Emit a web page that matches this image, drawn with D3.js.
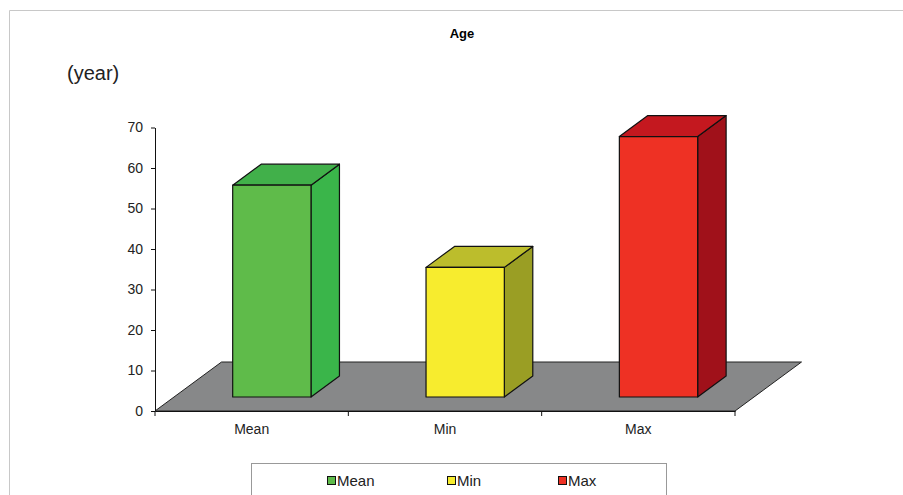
<!DOCTYPE html>
<html>
<head>
<meta charset="utf-8">
<script src="https://cdn.jsdelivr.net/npm/d3@7"></script>
<style>
  html, body { margin: 0; padding: 0; background: #fff; }
  svg { display: block; font-family: "Liberation Sans", Arial, sans-serif; }
</style>
</head>
<body>
<svg id="chart" width="903" height="495"></svg>
<script>
// ----------
var categories = ['Mean', 'Min', 'Max'];
var values = [52.3, 32, 64.3];
var yTicks = [0, 10, 20, 30, 40, 50, 60, 70];
var frontColors = ['#5fbb4a', '#f7ec2e', '#ee3124'];
var topColors = ['#41b04a', '#bcbd2c', '#c4181f'];
var sideColors = ['#3ab54a', '#9a9e24', '#a0111a'];

(function() {
  // ----------
  var svg = d3.select('#chart');
  var plotLeft = 155, plotRight = 735, plotBottom = 411, plotTop = 127.5;
  // oblique depth of the floor
  var depthX = 66.5, depthY = -49;
  var barFront = 0.286, barBack = 0.714;

  var x = d3.scaleBand().domain(categories).range([plotLeft, plotRight]).padding(0);
  var y = d3.scaleLinear().domain([0, 70]).range([plotBottom, plotTop]);

  function pts(list) {
    return list.map(function(p) { return p.join(','); }).join(' ');
  }

  // outer frame
  svg.append('path')
    .attr('d', 'M9.5,495 V10.5 H903')
    .attr('fill', 'none')
    .attr('stroke', '#c8c8c8')
    .attr('stroke-width', 1);

  // title
  svg.append('text')
    .attr('x', 462)
    .attr('y', 38)
    .attr('text-anchor', 'middle')
    .attr('font-size', 13)
    .attr('font-weight', 'bold')
    .text('Age');

  svg.append('text')
    .attr('x', 67)
    .attr('y', 80)
    .attr('font-size', 20)
    .attr('fill', '#222')
    .text('(year)');

  // floor
  svg.append('polygon')
    .attr('points', pts([
      [plotLeft, plotBottom], [plotRight, plotBottom],
      [plotRight + depthX, plotBottom + depthY], [plotLeft + depthX, plotBottom + depthY]
    ]))
    .attr('fill', '#878889')
    .attr('stroke', '#222')
    .attr('stroke-width', 1);

  // bars
  var bw = x.bandwidth() * 0.405;
  var bdx = depthX * (barBack - barFront), bdy = depthY * (barBack - barFront);
  var bars = svg.append('g');
  categories.forEach(function(c, i) {
    var x0 = x(c) + x.bandwidth() * 0.506 - bw / 2 + depthX * barFront;
    var y0 = y(0) + depthY * barFront;
    var h = y(0) - y(values[i]);
    var y1 = y0 - h;
    var g = bars.append('g')
      .attr('stroke', '#111')
      .attr('stroke-width', 1.2)
      .attr('stroke-linejoin', 'round');
    // side face
    g.append('polygon')
      .attr('points', pts([[x0 + bw, y0], [x0 + bw + bdx, y0 + bdy], [x0 + bw + bdx, y1 + bdy], [x0 + bw, y1]]))
      .attr('fill', sideColors[i]);
    // top face
    g.append('polygon')
      .attr('points', pts([[x0, y1], [x0 + bw, y1], [x0 + bw + bdx, y1 + bdy], [x0 + bdx, y1 + bdy]]))
      .attr('fill', topColors[i]);
    // front face
    g.append('rect')
      .attr('x', x0)
      .attr('y', y1)
      .attr('width', bw)
      .attr('height', h)
      .attr('fill', frontColors[i]);
  });

  // value axis
  var yAxis = svg.append('g')
    .attr('transform', 'translate(' + plotLeft + ',0)')
    .call(d3.axisLeft(y).tickValues(yTicks).tickSize(4).tickSizeOuter(0).tickPadding(8));
  yAxis.selectAll('text').attr('font-size', 14).attr('fill', '#222').attr('font-family', null);
  yAxis.selectAll('line, path').attr('stroke', '#111');

  // category axis
  var xAxis = svg.append('g')
    .attr('transform', 'translate(0,' + plotBottom + ')')
    .call(d3.axisBottom(x).tickSize(0).tickPadding(13));
  xAxis.select('.domain').attr('stroke', '#111');
  xAxis.selectAll('text').attr('font-size', 14).attr('fill', '#222').attr('font-family', null);
  var edges = categories.map(function(c) { return x(c); }).concat([plotRight]);
  xAxis.selectAll('.edge')
    .data(edges)
    .enter().append('line')
    .attr('class', 'edge')
    .attr('x1', function(d) { return d; })
    .attr('x2', function(d) { return d; })
    .attr('y1', 0)
    .attr('y2', 5)
    .attr('stroke', '#111');

  // legend
  svg.append('rect')
    .attr('x', 251.5)
    .attr('y', 463.5)
    .attr('width', 415)
    .attr('height', 40)
    .attr('fill', '#fff')
    .attr('stroke', '#999');

  var legendX = [327, 447, 558];
  var legend = svg.selectAll('.legend')
    .data(categories)
    .enter().append('g')
    .attr('class', 'legend')
    .attr('transform', function(d, i) { return 'translate(' + legendX[i] + ',476)'; });
  legend.append('rect')
    .attr('x', 0.5)
    .attr('y', 0.5)
    .attr('width', 8)
    .attr('height', 8)
    .attr('fill', function(d, i) { return frontColors[i]; })
    .attr('stroke', '#111');
  legend.append('text')
    .attr('x', 10)
    .attr('y', 10)
    .attr('font-size', 15)
    .attr('fill', '#222')
    .text(function(d) { return d; });
})();
</script>
</body>
</html>
